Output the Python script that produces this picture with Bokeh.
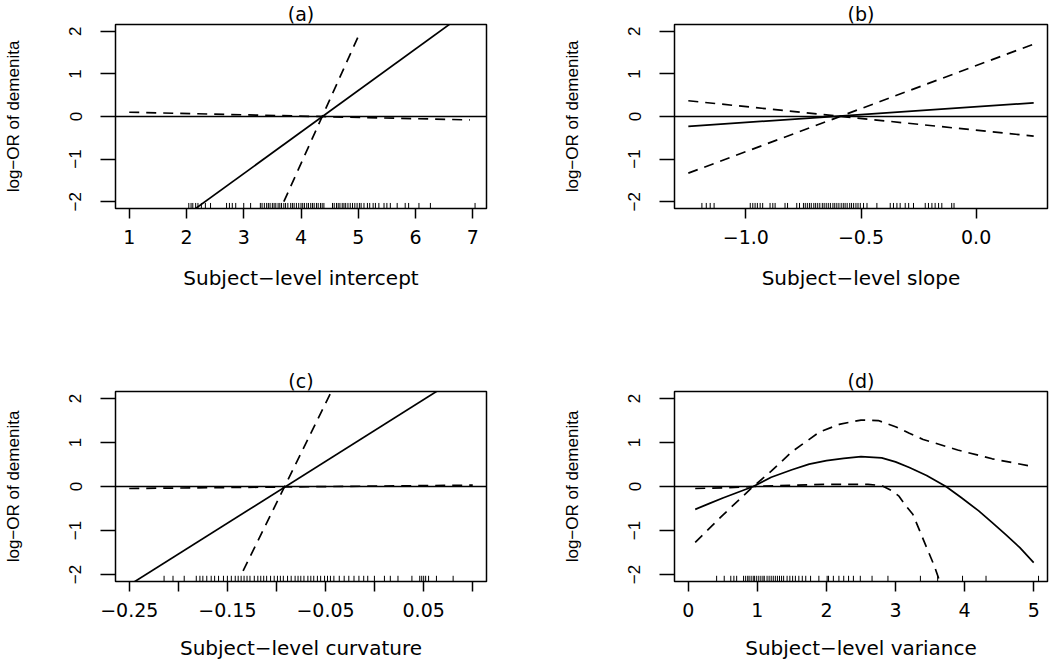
from bokeh.plotting import figure
from bokeh.models import FixedTicker, Span, Range1d
from bokeh.layouts import column, row
from bokeh.embed import file_html
from bokeh.resources import INLINE

# ---------------- data ----------------
Y_TICKS = [-2, -1, 0, 1, 2]
Y_TICK_LABELS = ["−2", "−1", "0", "1", "2"]
Y_LABEL = "log−OR of demenita"
Y_RANGE = (-2.16, 2.16)

# (a) subject-level intercept
A_TITLE = "(a)"
A_XLABEL = "Subject−level intercept"
A_XRANGE = (0.76, 7.24)
A_TICKS = [1, 2, 3, 4, 5, 6, 7]
A_TICK_LABELS = ["1", "2", "3", "4", "5", "6", "7"]
A_FIT_X = [1.0, 7.0]
A_FIT_Y = [-3.29, 2.56]
A_UP_X = [3.70, 5.04]
A_UP_Y = [-2.0, 2.0]
A_LO_X = [1.0, 6.95]
A_LO_Y = [0.10, -0.08]
A_RUG = [2.04, 2.08, 2.11, 2.16, 2.20, 2.26, 2.33, 2.42, 2.70, 2.75, 2.80, 2.86,
         3.00, 3.12, 3.29, 3.32, 3.36, 3.40, 3.43, 3.46, 3.50, 3.53, 3.56, 3.60,
         3.63, 3.66, 3.70, 3.73, 3.77, 3.82, 3.85, 3.88, 3.92, 3.96, 4.00, 4.03,
         4.06, 4.10, 4.13, 4.17, 4.20, 4.23, 4.27, 4.30, 4.34, 4.37, 4.40, 4.55,
         4.58, 4.62, 4.65, 4.68, 4.72, 4.75, 4.78, 4.82, 4.86, 4.90, 4.94, 4.98,
         5.02, 5.05, 5.10, 5.16, 5.20, 5.26, 5.30, 5.36, 5.45, 5.50, 5.56, 5.68,
         5.82, 5.88, 6.06, 6.26, 7.04]

# (b) subject-level slope
B_TITLE = "(b)"
B_XLABEL = "Subject−level slope"
B_XRANGE = (-1.31, 0.31)
B_TICKS = [-1.0, -0.5, 0.0]
B_TICK_LABELS = ["−1.0", "−0.5", "0.0"]
B_FIT_X = [-1.25, 0.25]
B_FIT_Y = [-0.23, 0.32]
B_UP_X = [-1.25, 0.25]
B_UP_Y = [-1.33, 1.70]
B_LO_X = [-1.25, 0.25]
B_LO_Y = [0.37, -0.46]
B_RUG = [-1.191, -1.172, -1.155, -1.138, -0.981, -0.970, -0.960, -0.950, -0.938,
         -0.927, -0.895, -0.883, -0.873, -0.830, -0.819, -0.779, -0.767, -0.750,
         -0.742, -0.733, -0.724, -0.716, -0.705, -0.697, -0.688, -0.679, -0.668,
         -0.660, -0.651, -0.642, -0.633, -0.622, -0.614, -0.605, -0.596, -0.586,
         -0.577, -0.569, -0.560, -0.549, -0.541, -0.532, -0.522, -0.513, -0.503,
         -0.489, -0.474, -0.431, -0.373, -0.359, -0.344, -0.330, -0.308, -0.293,
         -0.272, -0.221, -0.207, -0.192, -0.178, -0.163, -0.149, -0.106, -0.096]

# (c) subject-level curvature
C_TITLE = "(c)"
C_XLABEL = "Subject−level curvature"
C_XRANGE = (-0.264, 0.114)
C_TICKS = [-0.25, -0.2, -0.15, -0.1, -0.05, 0.0, 0.05, 0.1]
C_TICK_LABELS = ["−0.25", "", "−0.15", "", "−0.05", "", "0.05", ""]
C_FIT_X = [-0.25, 0.10]
C_FIT_Y = [-2.24, 2.68]
C_UP_X = [-0.134, -0.044]
C_UP_Y = [-1.92, 2.16]
C_LO_X = [-0.25, 0.10]
C_LO_Y = [-0.045, 0.03]
C_RUG = [-0.2145, -0.2054, -0.194, -0.1817, -0.178, -0.175, -0.171, -0.1665,
         -0.163, -0.159, -0.154, -0.150, -0.146, -0.142, -0.139, -0.136, -0.133,
         -0.130, -0.127, -0.1226, -0.119, -0.116, -0.113, -0.110, -0.106, -0.1023,
         -0.099, -0.096, -0.093, -0.0887, -0.085, -0.081, -0.078, -0.0752, -0.072,
         -0.068, -0.065, -0.062, -0.0583, -0.055, -0.051, -0.048, -0.045, -0.0415,
         -0.036, -0.031, -0.0263, -0.021, -0.016, -0.0111, -0.007, -0.0002, 0.010,
         0.016, 0.0238, 0.038, 0.046, 0.048, 0.050, 0.052, 0.055, 0.063, 0.080]

# (d) subject-level variance
D_TITLE = "(d)"
D_XLABEL = "Subject−level variance"
D_XRANGE = (-0.2, 5.2)
D_TICKS = [0, 1, 2, 3, 4, 5]
D_TICK_LABELS = ["0", "1", "2", "3", "4", "5"]
D_FIT_X = [0.1, 0.3, 0.5, 0.94, 1.2, 1.5, 1.75, 2.0, 2.25, 2.5, 2.8, 3.0, 3.2,
           3.45, 3.73, 3.95, 4.2, 4.4, 4.6, 4.8, 5.0]
D_FIT_Y = [-0.52, -0.39, -0.26, 0.0, 0.21, 0.38, 0.51, 0.59, 0.64, 0.68, 0.65,
           0.56, 0.43, 0.25, 0.0, -0.25, -0.55, -0.82, -1.1, -1.39, -1.73]
D_UP_X = [0.1, 0.5, 0.94, 1.2, 1.5, 1.9, 2.2, 2.5, 2.75, 3.0, 3.2, 3.4, 3.9, 4.4, 5.0]
D_UP_Y = [-1.27, -0.65, 0.0, 0.35, 0.79, 1.24, 1.42, 1.51, 1.50, 1.36, 1.21, 1.07,
          0.83, 0.63, 0.45]
D_LO_X = [0.1, 0.5, 0.94, 1.5, 2.0, 2.6, 2.8, 2.95, 3.05, 3.15, 3.25, 3.34, 3.48,
          3.56, 3.64]
D_LO_Y = [-0.045, -0.03, 0.0, 0.03, 0.05, 0.05, 0.02, -0.10, -0.22, -0.44, -0.63,
          -0.97, -1.50, -1.80, -2.16]
D_RUG = [0.41, 0.52, 0.615, 0.66, 0.70, 0.80, 0.83, 0.86, 0.88, 0.91, 0.94, 0.96,
         0.99, 1.02, 1.05, 1.08, 1.10, 1.14, 1.17, 1.20, 1.23, 1.26, 1.29, 1.32,
         1.35, 1.38, 1.43, 1.47, 1.51, 1.55, 1.60, 1.65, 1.70, 1.77, 1.89, 2.01,
         2.03, 2.10, 2.18, 2.25, 2.32, 2.39, 2.49, 2.66, 2.89, 3.36, 3.61, 3.97,
         4.31, 5.07]

# ---------------- style ----------------
H_FONT = "DejaVu Sans"
V_FONT = "Liberation Sans"
TICK_SIZE = "19px"
XLAB_SIZE = "20px"
T_SIZE = "19px"
V_SIZE = "17px"
LW = 1.7
DASH = "10 7"
RUG_H = 0.13
FIG_W, FIG_H = 525, 331


def panel(title, xlabel, xrange_, ticks, tick_labels, fit, up, lo, rug, col, rw):
    bl = 114 if col == 0 else 149
    fw = 372 if col == 0 else 373
    if rw == 0:
        bt, bb = 19, 123
    else:
        bt, bb = 60, 81
    p = figure(width=FIG_W, height=FIG_H,
               x_range=Range1d(*xrange_), y_range=Range1d(*Y_RANGE),
               output_backend="svg", toolbar_location=None,
               min_border_left=bl, min_border_right=FIG_W - bl - fw,
               min_border_top=bt, min_border_bottom=bb)
    p.title.text = title
    p.title.align = "center"
    p.title.text_font = H_FONT
    p.title.text_font_size = T_SIZE
    p.title.text_font_style = "normal"
    p.title.text_color = "black"
    p.title.standoff = 0
    p.title.offset = 0

    p.xgrid.visible = False
    p.ygrid.visible = False
    p.background_fill_color = "white"
    p.border_fill_color = "white"
    p.outline_line_color = "black"
    p.outline_line_width = 1.5

    xa = p.xaxis[0]
    xa.ticker = FixedTicker(ticks=ticks)
    xa.major_label_overrides = dict(zip(ticks, tick_labels))
    xa.axis_line_color = None
    xa.major_tick_out = 10
    xa.major_tick_in = 0
    xa.major_tick_line_width = 1.5
    xa.minor_tick_line_color = None
    xa.major_label_text_font = H_FONT
    xa.major_label_text_font_size = TICK_SIZE
    xa.major_label_text_color = "black"
    xa.major_label_standoff = 11
    xa.axis_label = xlabel
    xa.axis_label_text_font = H_FONT
    xa.axis_label_text_font_size = XLAB_SIZE
    xa.axis_label_text_font_style = "normal"
    xa.axis_label_text_color = "black"
    xa.axis_label_standoff = 16 if rw == 1 else 19

    ya = p.yaxis[0]
    ya.ticker = FixedTicker(ticks=Y_TICKS)
    ya.major_label_overrides = dict(zip(Y_TICKS, Y_TICK_LABELS))
    ya.major_label_orientation = "vertical"
    ya.axis_line_color = None
    ya.major_tick_out = 15
    ya.major_tick_in = 0
    ya.major_tick_line_width = 1.5
    ya.minor_tick_line_color = None
    ya.major_label_text_font = V_FONT
    ya.major_label_text_font_size = V_SIZE
    ya.major_label_text_color = "black"
    ya.major_label_standoff = 19
    ya.axis_label = Y_LABEL
    ya.axis_label_text_font = V_FONT
    ya.axis_label_text_font_size = V_SIZE
    ya.axis_label_text_font_style = "normal"
    ya.axis_label_text_color = "black"
    ya.axis_label_standoff = 44

    p.add_layout(Span(location=0, dimension="width", line_color="black", line_width=LW))

    p.line(fit[0], fit[1], line_color="black", line_width=LW)
    p.line(up[0], up[1], line_color="black", line_width=LW, line_dash=DASH)
    p.line(lo[0], lo[1], line_color="black", line_width=LW, line_dash=DASH)

    y0 = Y_RANGE[0]
    p.segment(x0=rug, y0=[y0] * len(rug), x1=rug, y1=[y0 + RUG_H] * len(rug),
              line_color="black", line_width=1)
    return p


pa = panel(A_TITLE, A_XLABEL, A_XRANGE, A_TICKS, A_TICK_LABELS,
           (A_FIT_X, A_FIT_Y), (A_UP_X, A_UP_Y), (A_LO_X, A_LO_Y), A_RUG, 0, 0)
pb = panel(B_TITLE, B_XLABEL, B_XRANGE, B_TICKS, B_TICK_LABELS,
           (B_FIT_X, B_FIT_Y), (B_UP_X, B_UP_Y), (B_LO_X, B_LO_Y), B_RUG, 1, 0)
pc = panel(C_TITLE, C_XLABEL, C_XRANGE, C_TICKS, C_TICK_LABELS,
           (C_FIT_X, C_FIT_Y), (C_UP_X, C_UP_Y), (C_LO_X, C_LO_Y), C_RUG, 0, 1)
pd = panel(D_TITLE, D_XLABEL, D_XRANGE, D_TICKS, D_TICK_LABELS,
           (D_FIT_X, D_FIT_Y), (D_UP_X, D_UP_Y), (D_LO_X, D_LO_Y), D_RUG, 1, 1)

layout = column(row(pa, pb, spacing=0), row(pc, pd, spacing=0), spacing=0)

with open("out.html", "w") as f:
    f.write(file_html(layout, INLINE))
